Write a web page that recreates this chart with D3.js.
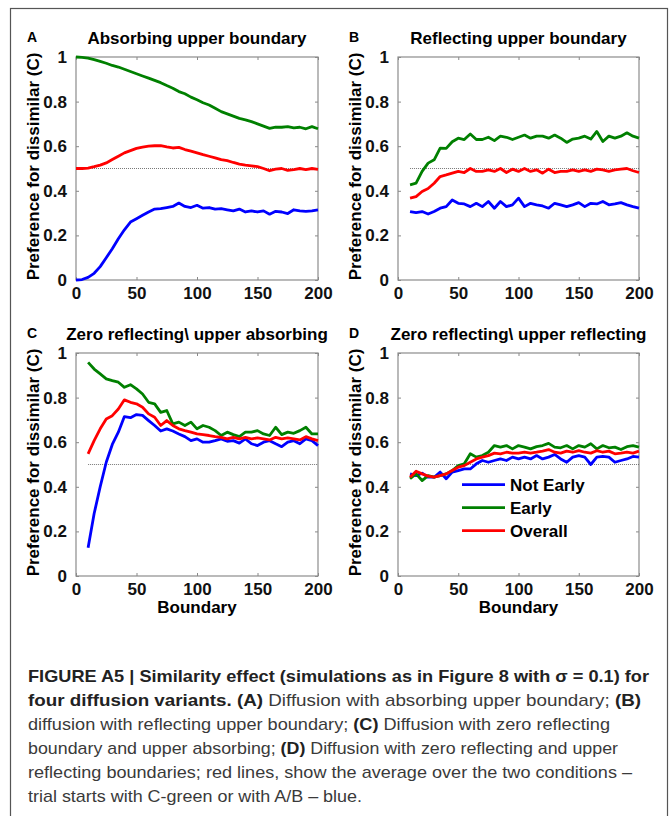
<!DOCTYPE html>
<html>
<head>
<meta charset="utf-8">
<script src="https://d3js.org/d3.v7.min.js"></script>
<style>
  body { margin: 0; background: #fff; }
  svg text { font-family: "Liberation Sans", Arial, Helvetica, sans-serif; }
  .tick text { font-size: 17px; font-weight: bold; fill: #111; }
  .tick line { stroke: #888; }
</style>
</head>
<body>
<svg id="fig" width="670" height="816"></svg>
<script>
// boundary values (x)
var boundaryA = [0,5,10,15,20,25,30,35,40,45,50,55,60,65,70,75,80,85,90,95,100,
  105,110,115,120,125,130,135,140,145,150,155,160,165,170,175,180,185,190,195,200];
var boundaryBCD = [10,15,20,25,30,35,40,45,50,55,60,65,70,75,80,85,90,95,100,
  105,110,115,120,125,130,135,140,145,150,155,160,165,170,175,180,185,190,195,200];

// A: absorbing upper boundary
var notEarlyA = [0,0.002,0.012,0.03,0.06,0.1,0.14,0.185,0.225,0.26,0.275,0.29,0.305,0.318,0.32,0.325,0.33,0.345,0.33,0.325,0.335,
  0.322,0.325,0.318,0.32,0.315,0.31,0.318,0.305,0.31,0.305,0.31,0.295,0.308,0.305,0.298,0.315,0.31,0.308,0.31,0.315];
var earlyA = [1,0.998,0.995,0.988,0.98,0.972,0.962,0.955,0.945,0.935,0.925,0.915,0.905,0.895,0.885,0.872,0.86,0.845,0.835,0.82,0.808,
  0.795,0.785,0.77,0.755,0.745,0.735,0.725,0.718,0.71,0.7,0.69,0.68,0.685,0.685,0.688,0.682,0.685,0.678,0.688,0.678];
var overallA = [0.5,0.5,0.502,0.508,0.515,0.525,0.54,0.555,0.57,0.58,0.59,0.596,0.6,0.602,0.603,0.597,0.592,0.595,0.585,0.578,0.57,
  0.562,0.555,0.548,0.54,0.535,0.527,0.52,0.515,0.512,0.508,0.5,0.49,0.497,0.5,0.492,0.495,0.5,0.495,0.5,0.496];

// B: reflecting upper boundary
var notEarlyB = [0.307,0.302,0.307,0.296,0.307,0.322,0.329,0.359,0.344,0.341,0.329,0.344,0.329,0.352,0.322,0.352,0.329,0.337,0.367,
  0.329,0.344,0.337,0.332,0.322,0.344,0.337,0.329,0.337,0.347,0.329,0.344,0.341,0.352,0.337,0.341,0.347,0.337,0.329,0.322];
var earlyB = [0.427,0.434,0.487,0.524,0.539,0.591,0.59,0.62,0.636,0.63,0.655,0.63,0.63,0.64,0.625,0.645,0.64,0.63,0.64,
  0.65,0.636,0.645,0.645,0.636,0.65,0.636,0.617,0.632,0.636,0.645,0.632,0.666,0.621,0.645,0.636,0.645,0.66,0.645,0.636];
var overallB = [0.367,0.374,0.397,0.41,0.434,0.464,0.471,0.479,0.487,0.482,0.5,0.487,0.487,0.494,0.487,0.5,0.482,0.497,0.487,
  0.5,0.487,0.494,0.479,0.497,0.482,0.487,0.487,0.494,0.487,0.494,0.487,0.497,0.494,0.487,0.494,0.497,0.5,0.49,0.482];

// C: zero reflecting, upper absorbing
var notEarlyC = [0.127,0.28,0.4,0.51,0.59,0.645,0.715,0.71,0.724,0.72,0.697,0.675,0.65,0.66,0.65,0.637,0.625,0.607,0.615,
  0.6,0.6,0.607,0.615,0.604,0.607,0.596,0.615,0.593,0.585,0.6,0.607,0.593,0.58,0.6,0.607,0.593,0.615,0.607,0.585];
var earlyC = [0.958,0.928,0.906,0.884,0.876,0.869,0.846,0.858,0.839,0.816,0.779,0.772,0.734,0.742,0.682,0.69,0.675,0.69,0.66,
  0.675,0.667,0.652,0.63,0.645,0.634,0.625,0.645,0.645,0.652,0.637,0.63,0.667,0.634,0.645,0.64,0.652,0.667,0.637,0.637];
var overallC = [0.548,0.607,0.66,0.704,0.719,0.749,0.79,0.779,0.772,0.757,0.727,0.712,0.675,0.697,0.675,0.66,0.652,0.645,0.637,
  0.634,0.63,0.625,0.622,0.615,0.622,0.615,0.622,0.615,0.619,0.615,0.61,0.622,0.615,0.619,0.615,0.61,0.625,0.615,0.607];

// D: zero reflecting, upper reflecting
var notEarlyD = [0.458,0.45,0.461,0.443,0.443,0.466,0.436,0.466,0.473,0.48,0.48,0.503,0.518,0.51,0.518,0.525,0.518,0.533,0.525,
  0.533,0.525,0.54,0.525,0.533,0.545,0.525,0.51,0.533,0.54,0.533,0.5,0.533,0.536,0.533,0.51,0.518,0.525,0.536,0.533];
var earlyD = [0.436,0.458,0.428,0.45,0.443,0.45,0.458,0.473,0.495,0.503,0.548,0.533,0.54,0.555,0.585,0.578,0.585,0.57,0.585,
  0.578,0.57,0.58,0.585,0.595,0.578,0.575,0.585,0.57,0.585,0.578,0.593,0.57,0.585,0.575,0.578,0.567,0.58,0.585,0.578];
var overallD = [0.443,0.47,0.458,0.448,0.443,0.45,0.458,0.473,0.488,0.495,0.51,0.525,0.533,0.54,0.551,0.548,0.555,0.551,0.551,
  0.555,0.551,0.555,0.56,0.567,0.555,0.551,0.56,0.555,0.562,0.555,0.551,0.562,0.555,0.56,0.548,0.551,0.555,0.551,0.56];

var xTicks = [0, 50, 100, 150, 200];
var yTicks = [0, 0.2, 0.4, 0.6, 0.8, 1];
var seriesNames = ["Not Early", "Early", "Overall"];
var seriesColors = ["#0000ff", "#008000", "#ff0000"];

var panels = [
  { letter: "A", title: "Absorbing upper boundary", x: boundaryA, ys: [notEarlyA, earlyA, overallA],
    left: 76, right: 318, top: 57, bottom: 280, refStart: 0, xlabel: false, legend: false },
  { letter: "B", title: "Reflecting upper boundary", x: boundaryBCD, ys: [notEarlyB, earlyB, overallB],
    left: 398, right: 639, top: 57, bottom: 280, refStart: 10, xlabel: false, legend: false },
  { letter: "C", title: "Zero reflecting\\ upper absorbing", x: boundaryBCD, ys: [notEarlyC, earlyC, overallC],
    left: 76, right: 318, top: 353, bottom: 576, refStart: 10, xlabel: true, legend: false },
  { letter: "D", title: "Zero reflecting\\ upper reflecting", x: boundaryBCD, ys: [notEarlyD, earlyD, overallD],
    left: 398, right: 639, top: 353, bottom: 576, refStart: 10, xlabel: true, legend: true }
];

var svg = d3.select("#fig");

// outer frame
svg.append("rect")
  .attr("x", 10.5).attr("y", 8.5)
  .attr("width", 657).attr("height", 830)
  .attr("fill", "none").attr("stroke", "#555").attr("stroke-width", 1.2);

panels.forEach(function (p) {
  var x = d3.scaleLinear().domain([0, 200]).range([p.left, p.right]);
  var y = d3.scaleLinear().domain([0, 1]).range([p.bottom, p.top]);
  var g = svg.append("g");

  // axes, MATLAB-style inward ticks on all four sides
  var fmt = d3.format("~g");
  g.append("g").attr("transform", "translate(0," + p.bottom + ")")
    .call(d3.axisBottom(x).tickValues(xTicks).tickSize(-3).tickPadding(7).tickFormat(fmt));
  g.append("g").attr("transform", "translate(0," + p.top + ")")
    .call(d3.axisTop(x).tickValues(xTicks).tickSize(-3).tickFormat(""));
  g.append("g").attr("transform", "translate(" + p.left + ",0)")
    .call(d3.axisLeft(y).tickValues(yTicks).tickSize(-3).tickPadding(9).tickFormat(fmt));
  g.append("g").attr("transform", "translate(" + p.right + ",0)")
    .call(d3.axisRight(y).tickValues(yTicks).tickSize(-3).tickFormat(""));
  g.selectAll(".domain").remove();
  g.selectAll(".tick text").attr("font-family", null);

  g.append("rect")
    .attr("x", p.left).attr("y", p.top)
    .attr("width", p.right - p.left).attr("height", p.bottom - p.top)
    .attr("fill", "none").attr("stroke", "#8c8c8c").attr("stroke-width", 1.2);

  // 0.5 reference
  g.append("line")
    .attr("x1", x(p.refStart)).attr("x2", x(200))
    .attr("y1", y(0.5)).attr("y2", y(0.5))
    .attr("stroke", "#555").attr("stroke-width", 0.8).attr("stroke-dasharray", "1,1");

  var line = d3.line()
    .x(function (d) { return x(d[0]); })
    .y(function (d) { return y(d[1]); });

  p.ys.forEach(function (vals, i) {
    g.append("path")
      .datum(p.x.map(function (v, j) { return [v, vals[j]]; }))
      .attr("d", line)
      .attr("fill", "none")
      .attr("stroke", seriesColors[i])
      .attr("stroke-width", 2.8)
      .attr("stroke-linejoin", "round");
  });

  // titles
  g.append("text")
    .attr("x", (p.left + p.right) / 2).attr("y", p.top - 13)
    .attr("text-anchor", "middle")
    .style("font-size", "17px").style("font-weight", "bold")
    .text(p.title);
  g.append("text")
    .attr("x", p.left - 49).attr("y", p.top - 15)
    .style("font-size", "14px").style("font-weight", "bold")
    .text(p.letter);
  g.append("text")
    .attr("transform", "translate(" + (p.left - 37) + "," + ((p.top + p.bottom) / 2 - 2) + ") rotate(-90)")
    .attr("text-anchor", "middle")
    .style("font-size", "17px").style("font-weight", "bold")
    .text("Preference for dissimilar (C)");
  if (p.xlabel) {
    g.append("text")
      .attr("x", (p.left + p.right) / 2).attr("y", p.bottom + 37)
      .attr("text-anchor", "middle")
      .style("font-size", "17px").style("font-weight", "bold")
      .text("Boundary");
  }
  if (p.legend) {
    seriesNames.forEach(function (name, i) {
      var ly = y(0.41) + i * 23;
      g.append("line")
        .attr("x1", p.left + 64).attr("x2", p.left + 107)
        .attr("y1", ly).attr("y2", ly)
        .attr("stroke", seriesColors[i]).attr("stroke-width", 2.8);
      g.append("text")
        .attr("x", p.left + 112).attr("y", ly + 6)
        .style("font-size", "17px").style("font-weight", "bold")
        .text(name);
    });
  }
});

// caption
var captionLines = [
  { y: 682, w: 621, parts: [["FIGURE A5 | Similarity effect (simulations as in Figure 8 with \u03c3 = 0.1) for", true]] },
  { y: 706, w: 613, parts: [["four diffusion variants.", true], [" ", false], ["(A)", true],
      [" Diffusion with absorbing upper boundary; ", false], ["(B)", true]] },
  { y: 730, w: 582, parts: [["diffusion with reflecting upper boundary; ", false], ["(C)", true],
      [" Diffusion with zero reflecting", false]] },
  { y: 754, w: 590, parts: [["boundary and upper absorbing; ", false], ["(D)", true],
      [" Diffusion with zero reflecting and upper", false]] },
  { y: 778, w: 604, parts: [["reflecting boundaries; red lines, show the average over the two conditions \u2013", false]] },
  { y: 802, w: 334, parts: [["trial starts with C-green or with A/B \u2013 blue.", false]] }
];

captionLines.forEach(function (l) {
  var t = svg.append("text")
    .attr("x", 28).attr("y", l.y)
    .attr("textLength", l.w).attr("lengthAdjust", "spacingAndGlyphs")
    .style("font-family", "'Liberation Sans Narrow', 'Liberation Sans', Arial, sans-serif")
    .style("font-size", "17px");
  l.parts.forEach(function (pt) {
    t.append("tspan")
      .style("font-weight", pt[1] ? "bold" : "normal")
      .attr("fill", pt[1] ? "#222" : "#3a3a3a")
      .text(pt[0]);
  });
});
</script>
</body>
</html>
